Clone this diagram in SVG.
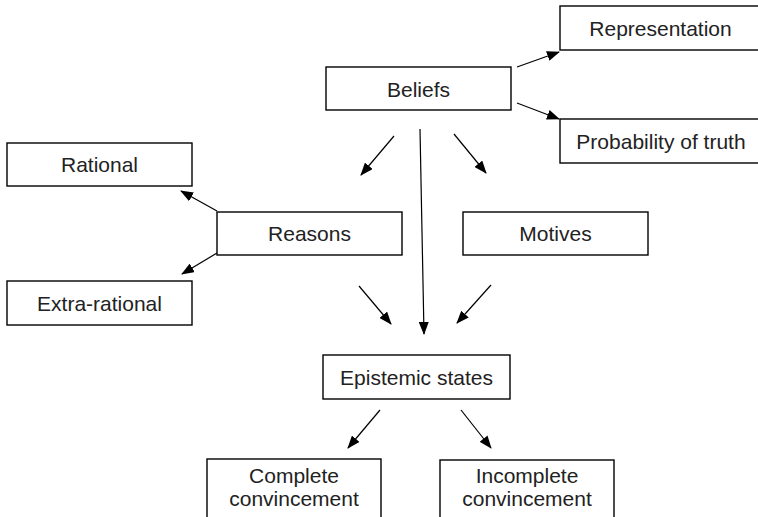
<svg xmlns="http://www.w3.org/2000/svg" width="758" height="517" viewBox="0 0 758 517">
<style>
.box{fill:#fff;stroke:#000;stroke-width:1.4}
.t{font-family:"Liberation Sans",Arial,sans-serif;font-size:21px;fill:#222;text-anchor:middle}
.c{stroke:#000;stroke-width:1.2;fill:none;marker-end:url(#ah)}
</style>
<defs>
<marker id="ah" markerWidth="13" markerHeight="10" refX="12" refY="5" orient="auto" markerUnits="userSpaceOnUse" viewBox="0 0 13 10">
<path d="M0,0 L13,5 L0,10 Z" fill="#000"/>
</marker>
</defs>
<g id="connectors">
<line class="c" x1="517" y1="67" x2="559" y2="52"/>
<line class="c" x1="517" y1="103" x2="559" y2="119"/>
<line class="c" x1="394" y1="136" x2="361" y2="175"/>
<line class="c" x1="420" y1="129" x2="424" y2="334"/>
<line class="c" x1="454" y1="134" x2="486" y2="173"/>
<line class="c" x1="217" y1="211" x2="181" y2="191"/>
<line class="c" x1="217" y1="253" x2="182" y2="274"/>
<line class="c" x1="359" y1="286" x2="391" y2="324"/>
<line class="c" x1="491" y1="285" x2="457" y2="323"/>
<line class="c" x1="380" y1="410" x2="348" y2="448"/>
<line class="c" x1="461" y1="410" x2="491" y2="448"/>
</g>
<g id="beliefs"><rect class="box" x="326" y="67" width="185" height="43"/><text class="t" x="418.5" y="96.5">Beliefs</text></g>
<g id="representation"><rect class="box" x="560" y="6" width="202" height="44"/><text class="t" x="660.5" y="35.5">Representation</text></g>
<g id="probability"><rect class="box" x="560" y="119" width="202" height="44"/><text class="t" x="661" y="148.5">Probability of truth</text></g>
<g id="rational"><rect class="box" x="7" y="143" width="185" height="43"/><text class="t" x="99.5" y="172">Rational</text></g>
<g id="reasons"><rect class="box" x="217" y="212" width="185" height="43"/><text class="t" x="309.5" y="241">Reasons</text></g>
<g id="motives"><rect class="box" x="463" y="212" width="185" height="43"/><text class="t" x="555.5" y="241">Motives</text></g>
<g id="extra-rational"><rect class="box" x="7" y="281" width="185" height="44"/><text class="t" x="99.5" y="310.5">Extra-rational</text></g>
<g id="epistemic"><rect class="box" x="323" y="355" width="187" height="44"/><text class="t" x="416.5" y="384.5">Epistemic states</text></g>
<g id="complete"><rect class="box" x="207" y="459" width="174" height="62"/><text class="t" x="294" y="482.5">Complete</text><text class="t" x="294" y="505.5">convincement</text></g>
<g id="incomplete"><rect class="box" x="440" y="460" width="174" height="62"/><text class="t" x="527" y="482.5">Incomplete</text><text class="t" x="527" y="505.5">convincement</text></g>
</svg>
